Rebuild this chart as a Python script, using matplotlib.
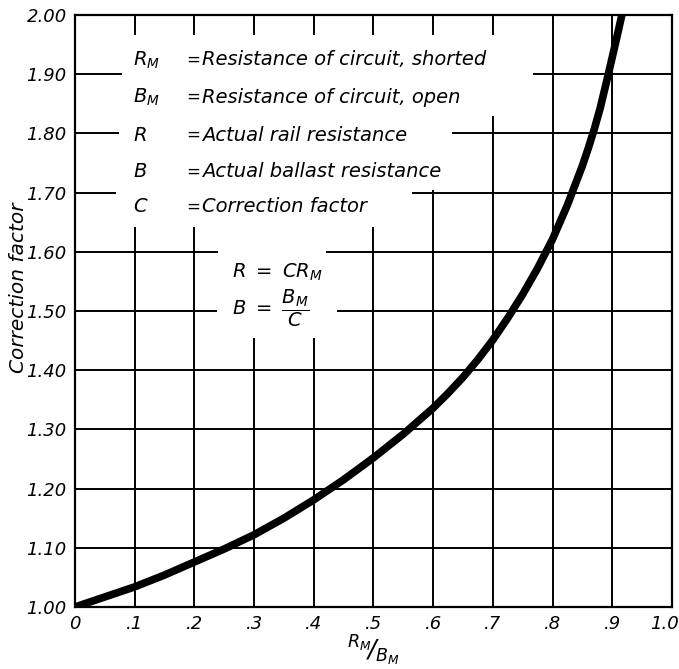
import matplotlib
matplotlib.use("Agg")
import matplotlib.pyplot as plt
from matplotlib.patches import Rectangle
import matplotlib.transforms as mtransforms

# curve: R_M/B_M vs correction factor
ratio = [0.0, 0.05, 0.1, 0.15, 0.2, 0.25, 0.3, 0.35, 0.4, 0.45, 0.5, 0.55,
         0.6, 0.625, 0.65, 0.675, 0.7, 0.725, 0.75, 0.775, 0.8, 0.825,
         0.85, 0.86, 0.87, 0.88, 0.89, 0.9, 0.91, 0.918]
factor = [1.0, 1.017, 1.034, 1.054, 1.076, 1.098, 1.122, 1.150, 1.181,
          1.215, 1.252, 1.292, 1.336, 1.361, 1.388, 1.418, 1.451, 1.488,
          1.528, 1.572, 1.621, 1.679, 1.745, 1.775, 1.807, 1.843, 1.885,
          1.928, 1.972, 2.008]

x_ticks = [0.0, 0.1, 0.2, 0.3, 0.4, 0.5, 0.6, 0.7, 0.8, 0.9, 1.0]
x_labels = ['0', '.1', '.2', '.3', '.4', '.5', '.6', '.7', '.8', '.9', '1.0']
y_ticks = [1.0, 1.1, 1.2, 1.3, 1.4, 1.5, 1.6, 1.7, 1.8, 1.9, 2.0]
y_labels = ['1.00', '1.10', '1.20', '1.30', '1.40', '1.50', '1.60', '1.70',
            '1.80', '1.90', '2.00']

symbols = [r'$R_M$', r'$B_M$', r'$R$', r'$B$', r'$C$']
meanings = ['Resistance of circuit, shorted', 'Resistance of circuit, open',
            'Actual rail resistance', 'Actual ballast resistance',
            'Correction factor']

plt.rcParams['font.family'] = 'DejaVu Sans'
plt.rcParams['font.style'] = 'oblique'
plt.rcParams['mathtext.fontset'] = 'dejavusans'

fig = plt.figure(figsize=(6.79, 6.69), dpi=100)
ax = fig.add_axes([0.1105, 0.0927, 0.879, 0.885])

ax.set_xlim(0, 1.0)
ax.set_ylim(1.0, 2.0)
ax.set_xticks(x_ticks)
ax.set_xticklabels(x_labels, fontsize=13, style='oblique')
ax.set_yticks(y_ticks)
ax.set_yticklabels(y_labels, fontsize=13, style='oblique')
ax.tick_params(length=0, pad=6)
ax.grid(True, color='black', linewidth=1.4, zorder=1)
ax.set_axisbelow(True)
for s in ax.spines.values():
    s.set_linewidth(1.6)

# last x label sits on the page edge; pull it in a little
last = ax.get_xticklabels()[-1]
last.set_transform(last.get_transform() +
                   mtransforms.ScaledTranslation(-7 / 100, 0, fig.dpi_scale_trans))

# white areas behind the key text, where the grid is left out
blanks = [(0.078, 1.83, 0.767, 1.966),
          (0.074, 1.704, 0.631, 1.83),
          (0.069, 1.642, 0.565, 1.704),
          (0.24, 1.55, 0.42, 1.642),
          (0.238, 1.454, 0.439, 1.55)]
for x0, y0, x1, y1 in blanks:
    ax.add_patch(Rectangle((x0, y0), x1 - x0, y1 - y0, facecolor='white',
                           edgecolor='none', zorder=2))

ax.plot(ratio, factor, color='black', linewidth=5.5, zorder=4,
        solid_joinstyle='round', solid_capstyle='butt', clip_on=True)

# key
row_y = [1.924, 1.861, 1.797, 1.735, 1.676]
for sym, text, y in zip(symbols, meanings, row_y):
    ax.text(0.097, y, sym, fontsize=14, va='center', ha='left', zorder=5)
    ax.text(0.186, y, '=', fontsize=12, va='center', ha='left', zorder=5)
    ax.text(0.213, y, text, fontsize=14, va='center', ha='left', zorder=5)

ax.text(0.263, 1.566, r'$R\ =\ CR_M$', fontsize=14, va='center', ha='left',
        zorder=5)
ax.text(0.263, 1.505, r'$B\ =\ \dfrac{B_M}{C}$', fontsize=14, va='center',
        ha='left', zorder=5)

ax.set_ylabel('Correction factor', fontsize=14.5, style='oblique')
ax.yaxis.set_label_coords(-0.078, 0.54)
ax.set_xlabel(r'$^{R_M}\!/_{B_M}$', fontsize=18, labelpad=0)

fig.savefig('out.png', dpi=100)
